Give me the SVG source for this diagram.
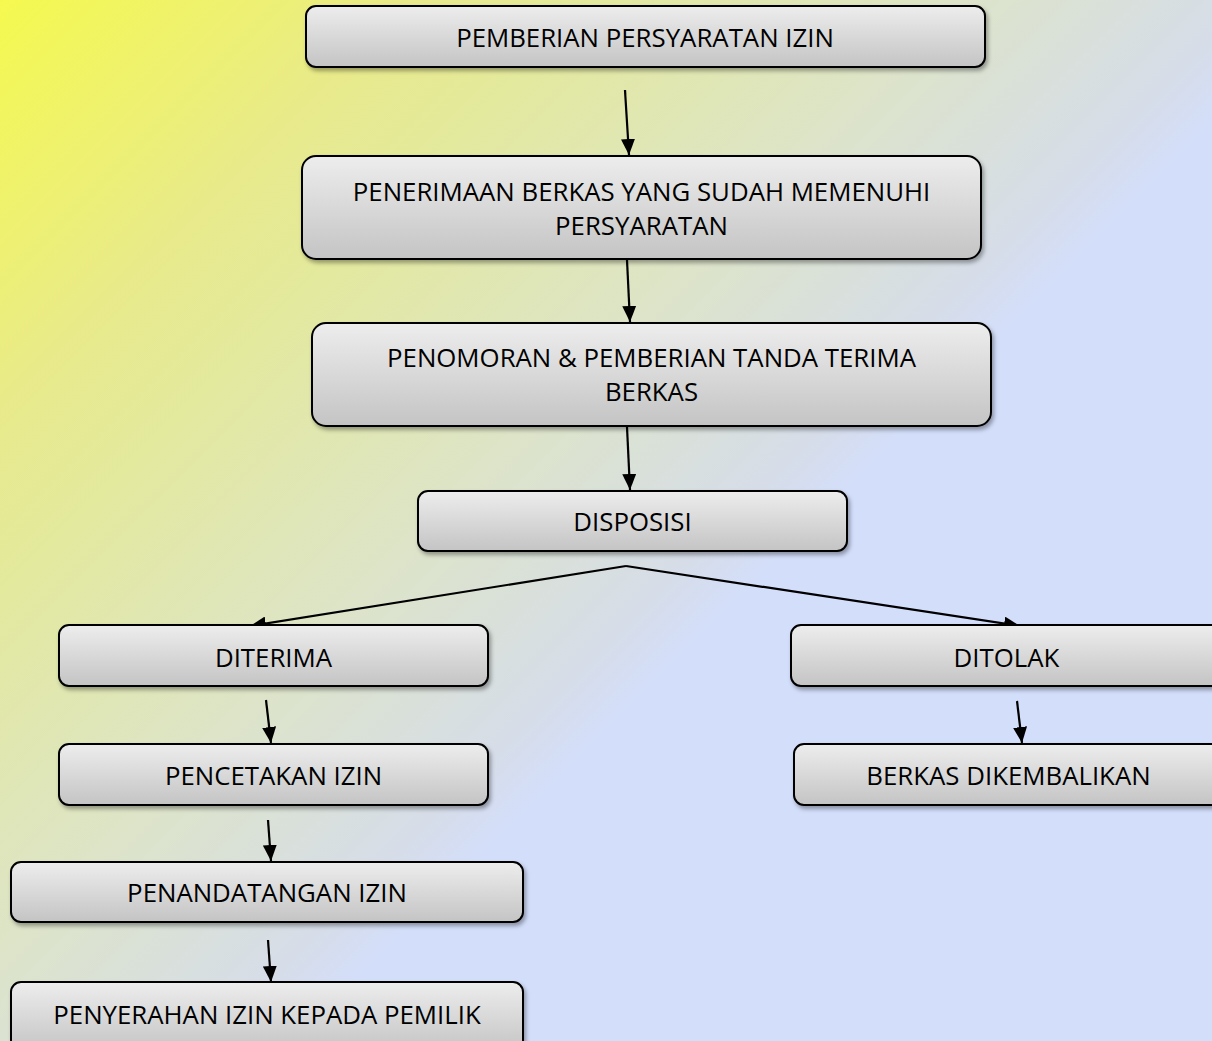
<svg xmlns="http://www.w3.org/2000/svg" width="1212" height="1041" viewBox="0 0 1212 1041">
<defs>
<linearGradient id="bg" gradientUnits="userSpaceOnUse" x1="0" y1="0" x2="700" y2="700">
<stop offset="0" stop-color="#f5f94f"/>
<stop offset="0.21" stop-color="#ecef78"/>
<stop offset="0.29" stop-color="#e8ea8a"/>
<stop offset="0.43" stop-color="#e3e99e"/>
<stop offset="0.68" stop-color="#dde4c8"/>
<stop offset="0.89" stop-color="#d6dde8"/>
<stop offset="0.96" stop-color="#d3defb"/>
<stop offset="1" stop-color="#d3defb"/>
</linearGradient>
<linearGradient id="box" x1="0" y1="0" x2="0" y2="1">
<stop offset="0" stop-color="#ededed"/>
<stop offset="1" stop-color="#c4c4c4"/>
</linearGradient>
<filter id="sh" x="-5%" y="-20%" width="110%" height="150%">
<feDropShadow dx="2" dy="3" stdDeviation="2" flood-color="#000" flood-opacity="0.35"/>
</filter>
<marker id="ah" markerUnits="userSpaceOnUse" markerWidth="16" markerHeight="14" refX="16" refY="7" orient="auto" viewBox="0 0 16 14">
<path d="M0,0 L16,7 L0,14 z" fill="#000"/>
</marker>
<style>
.b{fill:url(#box);stroke:#000;stroke-width:2;filter:url(#sh)}
.t{font-family:"Open Sans","Liberation Sans",sans-serif;font-size:25.8px;fill:#000;text-anchor:middle}
.c{stroke:#000;stroke-width:2.2;fill:none}
.a{marker-end:url(#ah)}
</style>
</defs>
<rect x="0" y="0" width="1212" height="1041" fill="url(#bg)"/>
<g id="connectors">
<line class="c a" x1="625" y1="90" x2="629" y2="155"/>
<line class="c a" x1="627" y1="260" x2="630" y2="322"/>
<line class="c a" x1="627" y1="427" x2="630" y2="490"/>
<line class="c a" x1="626" y1="566" x2="250" y2="626"/>
<line class="c a" x1="626" y1="566" x2="1020" y2="626"/>
<line class="c a" x1="266" y1="700" x2="271" y2="743"/>
<line class="c a" x1="1017" y1="701" x2="1022" y2="743"/>
<line class="c a" x1="268" y1="820" x2="271" y2="861"/>
<line class="c a" x1="268" y1="940" x2="271" y2="982"/>
</g>
<g id="n1"><rect class="b" x="306" y="6" width="679" height="61" rx="10"/><text class="t" x="645" y="46.5">PEMBERIAN PERSYARATAN IZIN</text></g>
<g id="n2"><rect class="b" x="302" y="156" width="679" height="103" rx="14"/><text class="t" x="641.5" y="201">PENERIMAAN BERKAS YANG SUDAH MEMENUHI</text><text class="t" x="641.5" y="235">PERSYARATAN</text></g>
<g id="n3"><rect class="b" x="312" y="323" width="679" height="103" rx="14"/><text class="t" x="651.5" y="367">PENOMORAN &amp; PEMBERIAN TANDA TERIMA</text><text class="t" x="651.5" y="401">BERKAS</text></g>
<g id="n4"><rect class="b" x="418" y="491" width="429" height="60" rx="10"/><text class="t" x="632.5" y="530.5">DISPOSISI</text></g>
<g id="n5"><rect class="b" x="59" y="625" width="429" height="61" rx="10"/><text class="t" x="273.5" y="666.5">DITERIMA</text></g>
<g id="n6"><rect class="b" x="791" y="625" width="431" height="61" rx="10"/><text class="t" x="1006.5" y="666.5">DITOLAK</text></g>
<g id="n7"><rect class="b" x="59" y="744" width="429" height="61" rx="10"/><text class="t" x="273.5" y="784.5">PENCETAKAN IZIN</text></g>
<g id="n8"><rect class="b" x="794" y="744" width="429" height="61" rx="10"/><text class="t" x="1008.5" y="784.5">BERKAS DIKEMBALIKAN</text></g>
<g id="n9"><rect class="b" x="11" y="862" width="512" height="60" rx="10"/><text class="t" x="267" y="901.5">PENANDATANGAN IZIN</text></g>
<g id="n10"><rect class="b" x="11" y="982" width="512" height="70" rx="10"/><text class="t" x="267" y="1024">PENYERAHAN IZIN KEPADA PEMILIK</text></g>
</svg>
